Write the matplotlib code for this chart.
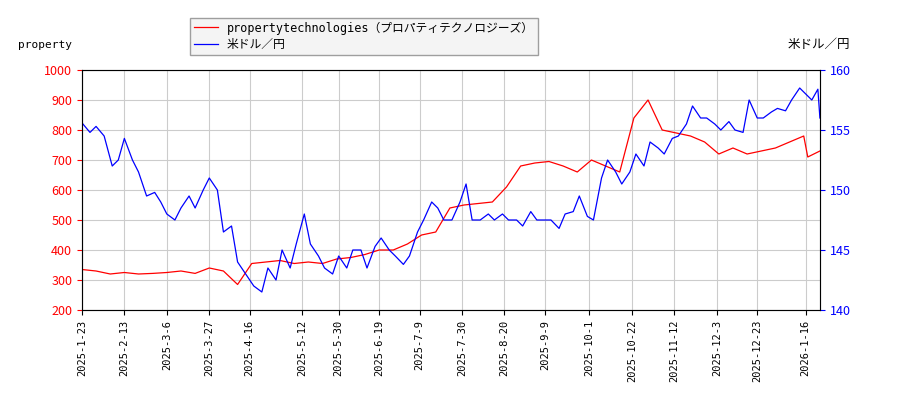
import matplotlib
matplotlib.use("Agg")
import matplotlib.pyplot as plt
import pandas as pd

plt.rcParams['font.family'] = ['Noto Sans CJK JP', 'DejaVu Sans']

red_dates = ["2025-01-23","2025-01-30","2025-02-06","2025-02-13","2025-02-20","2025-02-27","2025-03-06","2025-03-13","2025-03-20","2025-03-27","2025-04-03","2025-04-10","2025-04-17","2025-04-24","2025-05-01","2025-05-08","2025-05-15","2025-05-22","2025-05-29","2025-06-05","2025-06-12","2025-06-19","2025-06-26","2025-07-03","2025-07-10","2025-07-17","2025-07-24","2025-07-31","2025-08-07","2025-08-14","2025-08-21","2025-08-28","2025-09-04","2025-09-11","2025-09-18","2025-09-25","2025-10-02","2025-10-09","2025-10-16","2025-10-23","2025-10-30","2025-11-06","2025-11-13","2025-11-20","2025-11-27","2025-12-04","2025-12-11","2025-12-18","2025-12-25","2026-01-01","2026-01-08","2026-01-15","2026-01-17","2026-01-23"]
red_vals = [335,330,320,325,320,322,325,330,322,340,330,285,355,360,365,355,360,355,370,375,385,400,400,420,450,460,540,550,555,560,610,680,690,695,680,660,700,680,660,840,900,800,790,780,760,720,740,720,730,740,760,780,710,730]

blue_dates = ["2025-01-23","2025-01-27","2025-01-30","2025-02-03","2025-02-07","2025-02-10","2025-02-13","2025-02-17","2025-02-20","2025-02-24","2025-02-28","2025-03-03","2025-03-06","2025-03-10","2025-03-13","2025-03-17","2025-03-20","2025-03-24","2025-03-27","2025-03-31","2025-04-03","2025-04-07","2025-04-10","2025-04-14","2025-04-18","2025-04-22","2025-04-25","2025-04-29","2025-05-02","2025-05-06","2025-05-09","2025-05-13","2025-05-16","2025-05-20","2025-05-23","2025-05-27","2025-05-30","2025-06-03","2025-06-06","2025-06-10","2025-06-13","2025-06-17","2025-06-20","2025-06-24","2025-06-27","2025-07-01","2025-07-04","2025-07-08","2025-07-11","2025-07-15","2025-07-18","2025-07-21","2025-07-25","2025-07-29","2025-08-01","2025-08-04","2025-08-08","2025-08-12","2025-08-15","2025-08-19","2025-08-22","2025-08-26","2025-08-29","2025-09-02","2025-09-05","2025-09-09","2025-09-12","2025-09-16","2025-09-19","2025-09-23","2025-09-26","2025-09-30","2025-10-03","2025-10-07","2025-10-10","2025-10-14","2025-10-17","2025-10-21","2025-10-24","2025-10-28","2025-10-31","2025-11-04","2025-11-07","2025-11-11","2025-11-14","2025-11-18","2025-11-21","2025-11-25","2025-11-28","2025-12-02","2025-12-05","2025-12-09","2025-12-12","2025-12-16","2025-12-19","2025-12-23","2025-12-26","2025-12-30","2026-01-02","2026-01-06","2026-01-09","2026-01-13","2026-01-16","2026-01-19","2026-01-22","2026-01-23"]
blue_vals = [155.6,154.8,155.3,154.5,152.0,152.5,154.3,152.5,151.5,149.5,149.8,149.0,148.0,147.5,148.5,149.5,148.5,150.0,151.0,150.0,146.5,147.0,144.0,143.0,142.0,141.5,143.5,142.5,145.0,143.5,145.5,148.0,145.5,144.5,143.5,143.0,144.5,143.5,145.0,145.0,143.5,145.3,146.0,145.0,144.5,143.8,144.5,146.5,147.5,149.0,148.5,147.5,147.5,149.0,150.5,147.5,147.5,148.0,147.5,148.0,147.5,147.5,147.0,148.2,147.5,147.5,147.5,146.8,148.0,148.2,149.5,147.8,147.5,151.0,152.5,151.5,150.5,151.5,153.0,152.0,154.0,153.5,153.0,154.3,154.5,155.5,157.0,156.0,156.0,155.5,155.0,155.7,155.0,154.8,157.5,156.0,156.0,156.5,156.8,156.6,157.5,158.5,158.0,157.5,158.4,156.0]

tick_dates = ["2025-01-23","2025-02-13","2025-03-06","2025-03-27","2025-04-16","2025-05-12","2025-05-30","2025-06-19","2025-07-09","2025-07-30","2025-08-20","2025-09-09","2025-10-01","2025-10-22","2025-11-12","2025-12-03","2025-12-23","2026-01-16"]

mono = ['DejaVu Sans Mono', 'Noto Sans CJK JP']
fig = plt.figure(figsize=(9, 4), dpi=100)
ax = fig.add_axes([0.091, 0.225, 0.82, 0.6])
ax2 = ax.twinx()
rd = pd.to_datetime(red_dates); bd = pd.to_datetime(blue_dates)
l1, = ax.plot(rd, red_vals, color='red', lw=0.9)
l2, = ax2.plot(bd, blue_vals, color='blue', lw=0.9)
ax.set_ylim(200, 1000); ax2.set_ylim(140, 160)
ax.set_xlim(pd.Timestamp("2025-01-23"), pd.Timestamp("2026-01-23"))
ax.set_xticks(pd.to_datetime(tick_dates))
ax.set_xticklabels([f"{d.year}-{d.month}-{d.day}" for d in pd.to_datetime(tick_dates)], rotation=90, fontsize=7.5, family='DejaVu Sans Mono')
ax.set_yticks(range(200, 1001, 100))
ax.tick_params(axis='y', colors='red', labelsize=9)
ax2.tick_params(axis='y', colors='blue', labelsize=9)
ax2.set_yticks(range(140, 161, 5))
ax.grid(True, color='#cccccc', lw=0.8)
for s in ax.spines.values(): s.set_color('#888888')
fig.text(0.02, 0.88, 'property', fontsize=8, family='DejaVu Sans Mono')
fig.text(0.945, 0.88, '米ドル／円', fontsize=9, ha='right')
fig.legend([l1, l2], ['propertytechnologies（プロパティテクノロジーズ）', '米ドル／円'],
           loc='upper left', bbox_to_anchor=(0.205, 0.97), prop={'family': mono, 'size': 8.5}, frameon=True,
           fancybox=False, edgecolor='#888888', facecolor='#f2f2f2', borderpad=0.3, labelspacing=0.3)
fig.savefig('out.png')
